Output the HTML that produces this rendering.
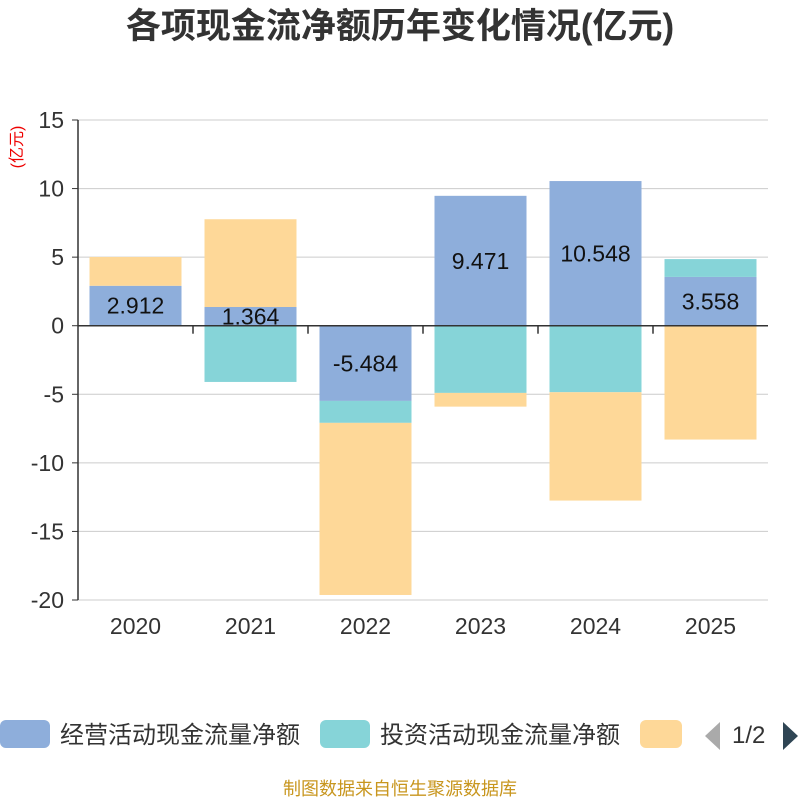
<!DOCTYPE html>
<html><head><meta charset="utf-8"><style>
body{margin:0;background:#fff;width:800px;height:800px;overflow:hidden;font-family:"Liberation Sans","Noto Sans CJK SC",sans-serif;}
</style></head><body>
<svg id="c" width="800" height="800" xmlns="http://www.w3.org/2000/svg">
<text x="400" y="38" text-anchor="middle" font-size="35" font-weight="bold" fill="#333" font-family="Liberation Sans, Noto Sans CJK SC, sans-serif">各项现金流净额历年变化情况(亿元)</text>
<text transform="translate(22,147) rotate(-90)" text-anchor="middle" font-size="16" fill="#e00" font-family="Liberation Sans, Noto Sans CJK SC, sans-serif">(亿元)</text>
<g id="grid"></g><g id="bars"></g><g id="axes"></g><g id="labels"></g>
<g font-family="Liberation Sans, Noto Sans CJK SC, sans-serif" font-size="24" fill="#333">
<g><rect x="0" y="720" width="50" height="28" rx="6" fill="#8eaedb"/><text x="60" y="743">经营活动现金流量净额</text></g>
<g><rect x="320" y="720" width="50" height="28" rx="6" fill="#86d4d8"/><text x="380" y="743">投资活动现金流量净额</text></g>
<g><rect x="640" y="720" width="42" height="28" rx="6" fill="#fed898"/></g>
<polygon points="720,722 720,750 705,736" fill="#aaa"/>
<text x="732" y="743">1/2</text>
<polygon points="783,722 783,750 798,736" fill="#2f4554"/>
</g>
<text x="400" y="795" text-anchor="middle" font-size="18" fill="#c8961e" font-family="Liberation Sans, Noto Sans CJK SC, sans-serif">制图数据来自恒生聚源数据库</text>
</svg>
<script>
const categories=["2020","2021","2022","2023","2024","2025"];
const operating=[2.912,1.364,-5.484,9.471,10.548,3.558];
const investing=[0,-4.1,-1.6,-4.9,-4.85,1.3];
const financing=[2.1,6.4,-12.55,-1.0,-7.9,-8.3];
const yTicks=[15,10,5,0,-5,-10,-15,-20];
const NS="http://www.w3.org/2000/svg";
const L=78,R=768,T=120,B=600,yMax=15,yMin=-20;
const y=v=>T+(yMax-v)/(yMax-yMin)*(B-T);
const cw=(R-L)/categories.length;
const xc=i=>L+cw*(i+0.5);
const bw=92;
function mk(tag,attrs,parent){const e=document.createElementNS(NS,tag);for(const k in attrs)e.setAttribute(k,attrs[k]);document.getElementById(parent).appendChild(e);return e;}
yTicks.forEach(t=>{
 const g=mk('line',{x1:L,x2:R,y1:y(t),y2:y(t),stroke:'#ccc','stroke-width':1},'grid');
 
 
 const tl=mk('text',{x:L-14,y:y(t)+8,'text-anchor':'end','font-size':23,fill:'#333'},'axes');
 tl.textContent=t;
 
 
 const tk=mk('line',{x1:L-6,x2:L,y1:y(t),y2:y(t),stroke:'#333'},'axes');
 
 
});
const ya=mk('line',{x1:L,x2:L,y1:T,y2:B,stroke:'#333','stroke-width':1.5},'axes');


const series=[[operating,'#8eaedb','operating'],[investing,'#86d4d8','investing'],[financing,'#fed898','financing']];
categories.forEach((c,i)=>{
 let pos=0,neg=0;
 series.forEach(([arr,col,nm])=>{
  const v=arr[i]; if(!v)return;
  let a,b;
  if(v>=0){a=pos;b=pos+v;pos=b;}else{a=neg;b=neg+v;neg=b;}
  const r=mk('rect',{x:xc(i)-bw/2,y:Math.min(y(a),y(b)),width:bw,height:Math.abs(y(a)-y(b)),fill:col},'bars');
  
  
 });
 const lv=operating[i];
 const lt=mk('text',{x:xc(i),y:(y(0)+y(lv))/2+8,'text-anchor':'middle','font-size':23,fill:'#111'},'labels');
 lt.textContent=lv.toFixed(3);
 
 
 const xl=mk('text',{x:xc(i),y:634,'text-anchor':'middle','font-size':23,fill:'#333'},'axes');
 xl.textContent=c;
 
 
 if(i>0){const tk=mk('line',{x1:L+cw*i,x2:L+cw*i,y1:y(0),y2:y(0)+8,stroke:'#333','stroke-width':1.5},'axes');
 
 }
});
const xa=mk('line',{x1:L,x2:R,y1:y(0),y2:y(0),stroke:'#333','stroke-width':1.5},'axes');


</script>
</body></html>
